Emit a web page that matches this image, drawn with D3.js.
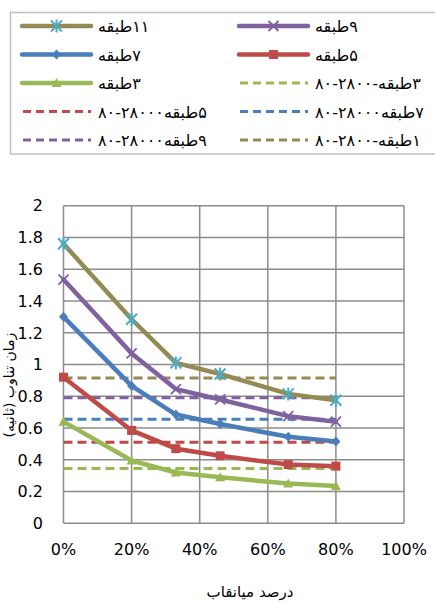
<!DOCTYPE html>
<html><head><meta charset="utf-8">
<script src="https://cdn.jsdelivr.net/npm/d3@7"></script>
<style>body{margin:0;background:#fff}svg{display:block}</style>
</head><body>
<svg id="c" width="435" height="603"></svg>
<script>
// ---- data ----
const xPercent = [0, 20, 33, 46, 66, 80];
const seriesNames = ["۱۱طبقه", "۹طبقه", "۷طبقه", "۵طبقه", "۳طبقه"];
const s11 = [1.76, 1.285, 1.01, 0.94, 0.815, 0.775];
const s9  = [1.535, 1.07, 0.845, 0.78, 0.675, 0.64];
const s7  = [1.30, 0.865, 0.685, 0.625, 0.545, 0.515];
const s5  = [0.92, 0.585, 0.47, 0.425, 0.37, 0.36];
const s3  = [0.64, 0.395, 0.32, 0.29, 0.25, 0.235];
const refNames = ["۳طبقه-۲۸۰۰-۸۰", "۵طبقه۲۸۰۰۰-۸۰", "۷طبقه۲۸۰۰۰-۸۰", "۹طبقه۲۸۰۰۰-۸۰", "۱طبقه-۲۸۰۰-۸۰"];
const refValues = [0.345, 0.51, 0.655, 0.79, 0.915];
const refRange = [0, 80];
const yTicks = [0, 0.2, 0.4, 0.6, 0.8, 1, 1.2, 1.4, 1.6, 1.8, 2];
const xTicks = [0, 20, 40, 60, 80, 100];
const yTitle = "زمان تناوب (ثانیه)";
const xTitle = "درصد میانقاب";

// ---- style ----
const C = {olive:"#948A54", purple:"#7F61A0", blue:"#4A7EBB", red:"#BE4B48", green:"#98B954", aqua:"#4BACC6"};
const solid = [
  {name:seriesNames[0], v:s11, color:C.olive, marker:"star", mcolor:C.aqua},
  {name:seriesNames[1], v:s9,  color:C.purple, marker:"x", mcolor:C.purple},
  {name:seriesNames[2], v:s7,  color:C.blue, marker:"diamond", mcolor:C.blue},
  {name:seriesNames[3], v:s5,  color:C.red, marker:"square", mcolor:C.red},
  {name:seriesNames[4], v:s3,  color:C.green, marker:"triangle", mcolor:C.green}
];
const refColors = [C.green, C.red, C.blue, C.purple, C.olive];
const dashed = refNames.map((n,i)=>({name:n, value:refValues[i], color:refColors[i]}));

const svg = d3.select("#c");
const x = d3.scaleLinear().domain([0,100]).range([63.5, 404]);
const y = d3.scaleLinear().domain([0,2]).range([523.3, 205.7]);

// grid
const g = svg.append("g");
g.selectAll(".hg").data(yTicks).join("line")
  .attr("x1", x(0)).attr("x2", x(100)).attr("y1", d=>y(d)).attr("y2", d=>y(d))
  .attr("stroke", "#8c8c8c").attr("stroke-width", 1.5);
g.selectAll(".vg").data(xTicks).join("line")
  .attr("x1", d=>x(d)).attr("x2", d=>x(d)).attr("y1", y(0)).attr("y2", y(2))
  .attr("stroke", "#8c8c8c").attr("stroke-width", 1.5);

// axes labels
const fnt = "'DejaVu Sans', sans-serif";
svg.append("g").selectAll("text").data(yTicks).join("text")
  .attr("x", 43).attr("y", d=>y(d)).attr("dy", "0.36em")
  .attr("text-anchor", "end").attr("font-family", fnt).attr("font-size", 16).attr("fill", "#000")
  .text(d=>d3.format("")(d));
svg.append("g").selectAll("text").data(xTicks).join("text")
  .attr("x", d=>x(d)).attr("y", 555)
  .attr("text-anchor", "middle").attr("font-family", fnt).attr("font-size", 16).attr("fill", "#000")
  .text(d=>d+"%");

// dashed reference lines
svg.append("g").selectAll("line").data(dashed).join("line")
  .attr("x1", x(refRange[0])).attr("x2", x(refRange[1]))
  .attr("y1", d=>y(d.value)).attr("y2", d=>y(d.value))
  .attr("stroke", d=>d.color).attr("stroke-width", 3).attr("stroke-dasharray", "9,5");

const line = d3.line().x((d,i)=>x(xPercent[i])).y(d=>y(d));
function drawMarker(sel, type, color, cx, cy) {
  if (type==="diamond") sel.append("path").attr("d", `M${cx},${cy-5}L${cx+4.5},${cy}L${cx},${cy+5}L${cx-4.5},${cy}Z`).attr("fill", color);
  else if (type==="square") sel.append("rect").attr("x", cx-4.5).attr("y", cy-4.5).attr("width", 9).attr("height", 9).attr("fill", color);
  else if (type==="triangle") sel.append("path").attr("d", `M${cx},${cy-5}L${cx+5},${cy+4}L${cx-5},${cy+4}Z`).attr("fill", color);
  else if (type==="x") sel.append("path").attr("d", `M${cx-5},${cy-5}L${cx+5},${cy+5}M${cx-5},${cy+5}L${cx+5},${cy-5}`).attr("stroke", color).attr("stroke-width", 1.8);
  else if (type==="star") sel.append("path").attr("d", `M${cx-5.5},${cy-5.5}L${cx+5.5},${cy+5.5}M${cx-5.5},${cy+5.5}L${cx+5.5},${cy-5.5}M${cx},${cy-6.5}L${cx},${cy+6.5}`).attr("stroke", color).attr("stroke-width", 2);
}
const sg = svg.append("g");
solid.slice().reverse().forEach(s=>{
  sg.append("path").attr("d", line(s.v)).attr("fill","none").attr("stroke", s.color)
    .attr("stroke-width", 4.5).attr("stroke-linejoin","round").attr("stroke-linecap","round");
  s.v.forEach((v,i)=>drawMarker(sg, s.marker, s.mcolor, x(xPercent[i]), y(v)));
});

// legend
svg.append("rect").attr("x", 10.5).attr("y", 12.5).attr("width", 440).attr("height", 141.5)
  .attr("fill", "none").attr("stroke", "#bfbfbf").attr("stroke-width", 1.5);
const items = [
  {t:"s", s:solid[0]}, {t:"s", s:solid[1]},
  {t:"s", s:solid[2]}, {t:"s", s:solid[3]},
  {t:"s", s:solid[4]}, {t:"d", s:dashed[0]},
  {t:"d", s:dashed[1]}, {t:"d", s:dashed[2]},
  {t:"d", s:dashed[3]}, {t:"d", s:dashed[4]}
];
const lg = svg.append("g");
items.forEach((it,i)=>{
  const col = i%2, row = Math.floor(i/2);
  const lx = col===0 ? 22 : 239;
  const ly = 26 + row*28.5;
  if (it.t==="s") {
    lg.append("line").attr("x1", lx).attr("x2", lx+69).attr("y1", ly).attr("y2", ly)
      .attr("stroke", it.s.color).attr("stroke-width", 4.5).attr("stroke-linecap","round");
    drawMarker(lg, it.s.marker, it.s.mcolor, lx+34.5, ly);
  } else {
    lg.append("line").attr("x1", lx).attr("x2", lx+69).attr("y1", ly).attr("y2", ly)
      .attr("stroke", it.s.color).attr("stroke-width", 3).attr("stroke-dasharray", "8,5").attr("stroke-dashoffset", -1);
  }
  lg.append("text").attr("x", lx+76).attr("y", ly+6)
    .attr("direction", "rtl").attr("text-anchor", "end")
    .attr("font-family", fnt).attr("font-size", 16).attr("fill", "#000")
    .text(it.s.name);
});

// axis titles
svg.append("text").attr("transform", "translate(14,385) rotate(-90)")
  .attr("direction", "rtl").attr("text-anchor", "middle")
  .attr("font-family", fnt).attr("font-size", 14).attr("fill", "#000").text(yTitle);
svg.append("text").attr("x", 250).attr("y", 597)
  .attr("direction", "rtl").attr("text-anchor", "middle")
  .attr("font-family", fnt).attr("font-size", 15).attr("fill", "#000").text(xTitle);
</script>
</body></html>
